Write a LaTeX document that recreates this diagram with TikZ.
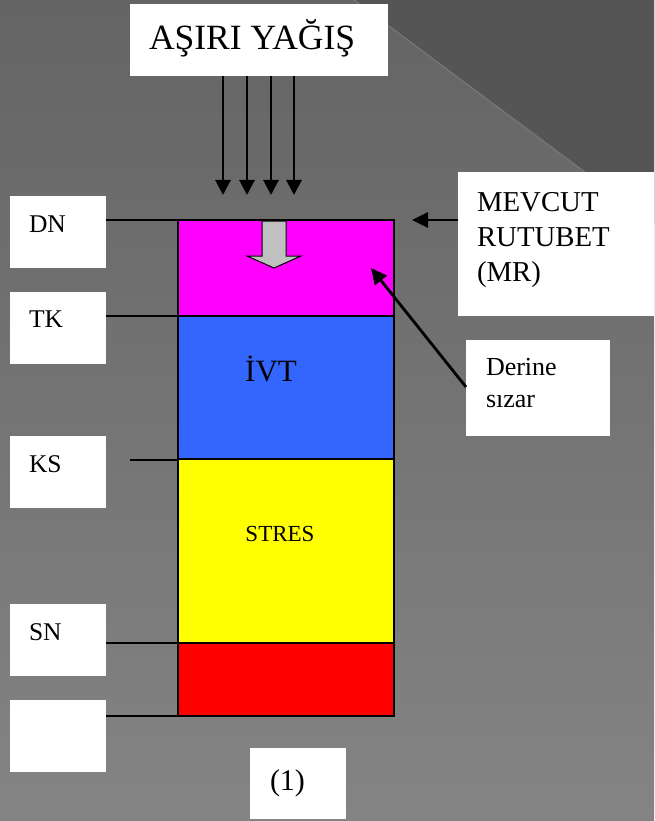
\documentclass[tikz,border=0pt]{standalone}
\usepackage{fontspec}
\setmainfont{Liberation Serif}
\usetikzlibrary{arrows.meta,calc}
\definecolor{bgtop}{HTML}{646464}
\definecolor{bgbot}{HTML}{848484}
\definecolor{bgdark}{HTML}{555555}
\definecolor{diagline}{HTML}{7A7A7A}
\definecolor{magl}{HTML}{FF00FF}
\definecolor{blul}{HTML}{3366FF}
\definecolor{yell}{HTML}{FFFF00}
\definecolor{redl}{HTML}{FF0000}
\definecolor{arrgray}{HTML}{C0C0C0}
\begin{document}
\begin{tikzpicture}[x=1pt,y=-1pt,
 wbox/.style={rectangle, fill=white, draw=none, inner sep=0pt, outer sep=0pt, anchor=north west},
 lbox/.style={wbox, minimum width=96pt, minimum height=72pt},
 layerbox/.style={rectangle, draw=black, line width=2.8pt, inner sep=0pt, outer sep=0pt, minimum width=216pt, anchor=north west},
 txt/.style={inner sep=0pt, outer sep=0pt, anchor=base west, text=black},
 conn/.style={draw=black, line width=2.4pt},
 rain/.style={draw=black, line width=2.8pt, -{Triangle[length=15pt,width=15pt]}},
 ptr/.style={draw=black, line width=2.8pt, -{Triangle[length=16pt,width=15pt]}},
]
\useasboundingbox (0,0) rectangle (654,821);
% background
\fill[top color=bgtop, bottom color=bgbot] (0,0) rectangle (654,821);
\fill[bgdark] (354,0) -- (654,0) -- (654,223.5) -- cycle;
\draw[diagline, line width=1pt] (354,0) -- (654,223.5);

% title
\node[wbox, minimum width=258pt, minimum height=72pt] (title) at (130,4) {};
\node[txt, font=\fontsize{35.5}{42}\selectfont] (titlet) at (149,50) {AŞIRI YAĞIŞ};

% column layers
\node[layerbox, fill=magl, minimum height=96pt] (mag) at (178,220) {};
\node[layerbox, fill=blul, minimum height=143pt] (blu) at (178,316) {};
\node[layerbox, fill=yell, minimum height=184pt] (yel) at (178,459) {};
\node[layerbox, fill=redl, minimum height=73pt] (red) at (178,643) {};
\node[txt, anchor=base, font=\fontsize{31}{37}\selectfont] (ivt) at (271,381) {İVT};
\node[txt, anchor=base, font=\fontsize{23}{28}\selectfont] (stres) at (280,541) {STRES};

% gray arrow into top layer
\draw[fill=arrgray, draw=black, line width=1pt] (262,221) -- (286,221) -- (286,256) -- (301,256) -- (274,268) -- (247,256) -- (262,256) -- cycle;
\draw[black, line width=2.8pt] (mag.north west) -- (mag.north east);

% rain arrows
\coordinate (r1) at (223,195);
\coordinate (r2) at (247,195);
\coordinate (r3) at (271,195);
\coordinate (r4) at (294,195);
\foreach \r in {r1,r2,r3,r4} \draw[rain] (title.south -| \r) -- (\r);

% left label boxes
\node[lbox] (dn) at (10,196) {};
\node[lbox] (tk) at (10,292) {};
\node[lbox] (ks) at (10,436) {};
\node[lbox] (sn) at (10,604) {};
\node[lbox] (emp) at (10,700) {};
\node[txt, font=\fontsize{25.5}{30}\selectfont] (dnt) at (29,232) {DN};
\node[txt, font=\fontsize{25.5}{30}\selectfont] (tkt) at (29,327) {TK};
\node[txt, font=\fontsize{25.5}{30}\selectfont] (kst) at (29,472) {KS};
\node[txt, font=\fontsize{25.5}{30}\selectfont] (snt) at (29,640) {SN};

\coordinate (ksstart) at (130,460);
\draw[conn] (dn.east |- mag.north west) -- (mag.north west);
\draw[conn] (tk.east |- blu.north west) -- (blu.north west);
\draw[conn] (ksstart) -- (ksstart -| yel.west);
\draw[conn] (sn.east |- red.north west) -- (red.north west);
\draw[conn] (emp.east |- red.south west) -- (red.south west);

% MR box
\node[wbox, minimum width=196pt, minimum height=144pt] (mr) at (458,172) {};
\node[txt, font=\fontsize{28.8}{35}\selectfont] (mr1) at (477,211) {MEVCUT};
\node[txt, font=\fontsize{28.8}{35}\selectfont] (mr2) at (477,246) {RUTUBET};
\node[txt, font=\fontsize{28.8}{35}\selectfont] (mr3) at (477,281) {(MR)};
\coordinate (mrtip) at (412,220);
\draw[ptr] (mr.west |- mrtip) -- (mrtip);

% Derine sizar box
\node[wbox, minimum width=144pt, minimum height=96pt] (der) at (466,340) {};
\node[txt, font=\fontsize{26}{32}\selectfont] (der1) at (486,375) {Derine};
\node[txt, font=\fontsize{26}{32}\selectfont] (der2) at (486,407) {sızar};
\coordinate (dtip) at (371,268);
\draw[ptr] ($(der.west)+(0,-1)$) -- (dtip);

% (1) box
\node[wbox, minimum width=96pt, minimum height=71pt] (one) at (250,748) {};
\node[txt, font=\fontsize{30}{36}\selectfont] (onet) at (270,790) {(1)};
\end{tikzpicture}
\end{document}
